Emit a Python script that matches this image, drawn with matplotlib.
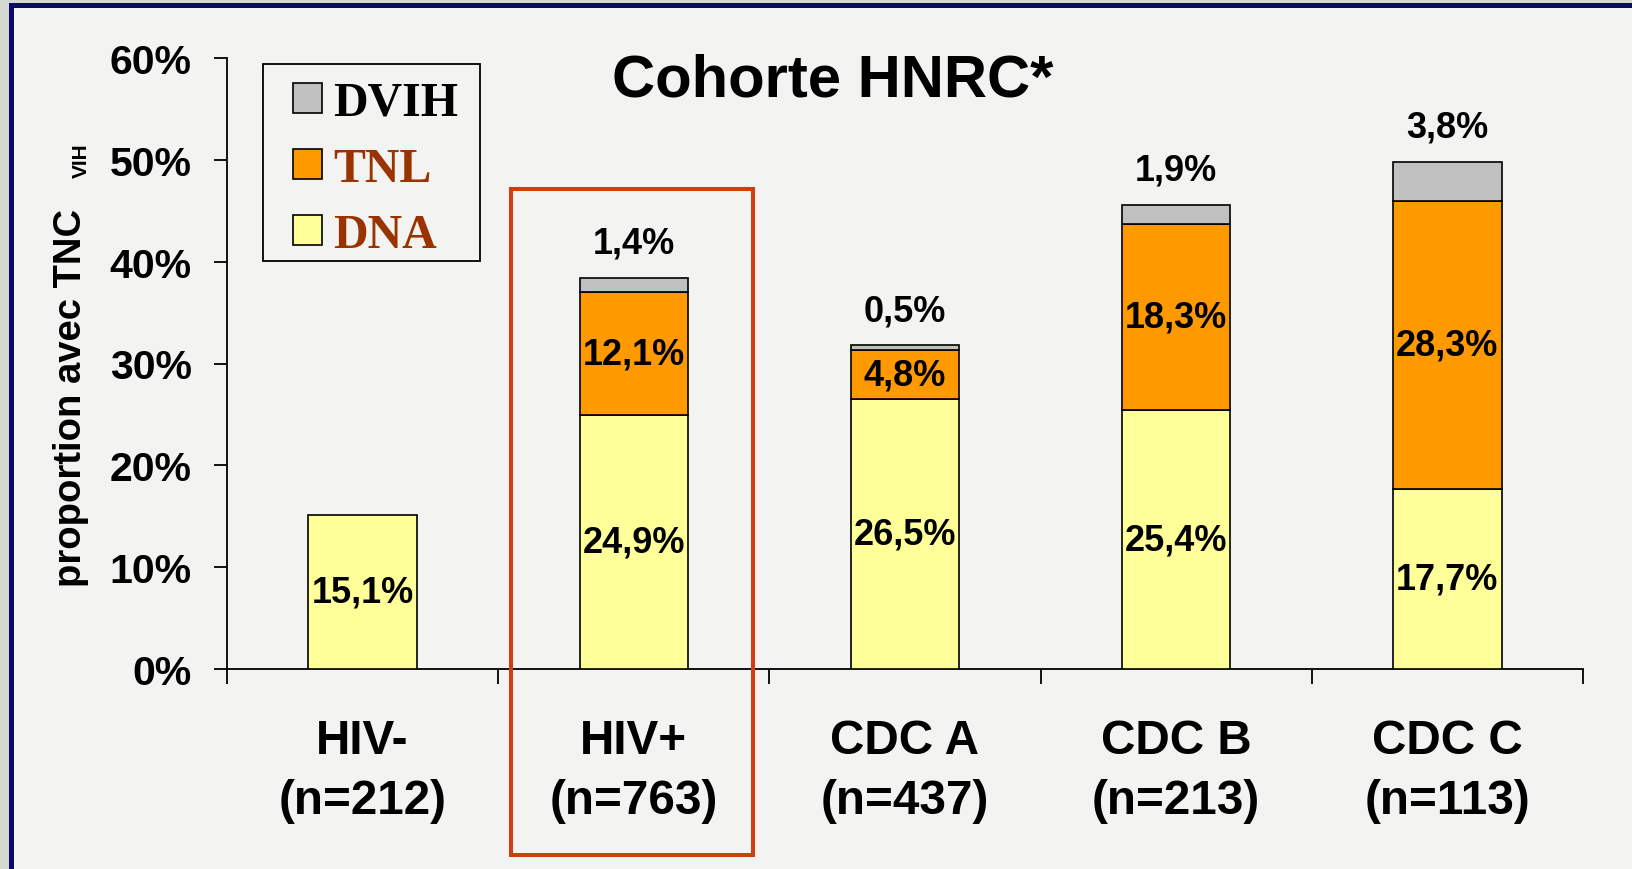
import numpy as np
import matplotlib
matplotlib.use("Agg")
import matplotlib.pyplot as plt
from matplotlib.patches import Rectangle

# ------------------------------------------------------------
# data
# ------------------------------------------------------------
categories = ["HIV-\n(n=212)", "HIV+\n(n=763)", "CDC A\n(n=437)",
              "CDC B\n(n=213)", "CDC C\n(n=113)"]
dna = [15.1, 24.9, 26.5, 25.4, 17.7]
tnl = [0.0, 12.1, 4.8, 18.3, 28.3]
dvih = [0.0, 1.4, 0.5, 1.9, 3.8]
y_ticks = [0, 10, 20, 30, 40, 50, 60]

C_DNA = "#ffff99"
C_TNL = "#ff9900"
C_DVIH = "#c0c0c0"
BROWN = "#993300"
BG = "#f3f4f1"
SANS = "Liberation Sans"
SERIF = "Liberation Serif"

W, H = 1633, 870
fig = plt.figure(figsize=(W / 100, H / 100), dpi=100, facecolor=BG)

# outer frame (grey margin + navy border)
fig.add_artist(Rectangle((0, 0), 9 / W, 1, transform=fig.transFigure,
                         facecolor="#d4dad2", edgecolor="none", zorder=0))
fig.add_artist(Rectangle((0, 1 - 4 / H), 1, 4 / H, transform=fig.transFigure,
                         facecolor="#d4dad2", edgecolor="none", zorder=0))
fig.add_artist(Rectangle((9 / W, 0), 5 / W, 1 - 4 / H, transform=fig.transFigure,
                         facecolor="#0a0a6e", edgecolor="none", zorder=1))
fig.add_artist(Rectangle((9 / W, 1 - 9 / H), 1, 5 / H, transform=fig.transFigure,
                         facecolor="#0a0a6e", edgecolor="none", zorder=1))

ax = fig.add_axes([227 / W, 1 - 670 / H, (1583 - 227) / W, (670 - 59) / H])
ax.set_facecolor("none")

x = np.arange(len(categories))
bw = 0.40
dna = np.array(dna)
tnl = np.array(tnl)
dvih = np.array(dvih)

b1 = ax.bar(x, dna, bw, color=C_DNA, edgecolor="black", linewidth=1.2,
            label="DNA", zorder=3)
mask = tnl > 0
b2 = ax.bar(x[mask], tnl[mask], bw, bottom=dna[mask], color=C_TNL,
            edgecolor="black", linewidth=1.2, label="TNL", zorder=3)
b3 = ax.bar(x[mask], dvih[mask], bw, bottom=(dna + tnl)[mask], color=C_DVIH,
            edgecolor="black", linewidth=1.2, label="DVIH", zorder=3)


def fmt(v):
    return f"{v:.1f}".replace(".", ",") + "%"


for i in range(len(x)):
    ax.text(x[i], dna[i] / 2, fmt(dna[i]), ha="center", va="center",
            fontsize=26, fontweight="bold", family=SANS, zorder=4)
    if tnl[i] > 0:
        ax.text(x[i], dna[i] + tnl[i] / 2, fmt(tnl[i]), ha="center",
                va="center", fontsize=26, fontweight="bold", family=SANS,
                zorder=4)
        top = dna[i] + tnl[i] + dvih[i]
        ax.text(x[i], top + 3.4, fmt(dvih[i]), ha="center", va="center",
                fontsize=26, fontweight="bold", family=SANS, zorder=4)

ax.set_xlim(-0.5, len(x) - 0.5)
ax.set_ylim(0, 60)
ax.set_yticks(y_ticks)
ax.set_yticklabels([f"{t}%" for t in y_ticks])

ax.set_xticks(np.arange(len(x) + 1) - 0.5)
ax.set_xticklabels([])
ax.set_xticks(x, minor=True)
ax.set_xticklabels(categories, minor=True, fontsize=34.3, fontweight="bold",
                   family=SANS, linespacing=1.45)
ax.tick_params(axis="x", which="major", direction="out", length=11, width=1.3)
ax.tick_params(axis="x", which="minor", length=0, pad=35)
ax.tick_params(axis="y", direction="out", length=9.5, width=1.3, pad=16,
               labelsize=29.5)
for lab in ax.get_yticklabels():
    lab.set_fontweight("bold")
    lab.set_family(SANS)

for s in ["top", "right"]:
    ax.spines[s].set_visible(False)
for s in ["left", "bottom"]:
    ax.spines[s].set_linewidth(1.3)

# legend: frame drawn separately (wider side padding than matplotlib gives)
ax.add_patch(Rectangle((0.0265, 0.6678), 0.1601, 0.3222,
                       transform=ax.transAxes, facecolor="none",
                       edgecolor="black", linewidth=1.3, zorder=5,
                       clip_on=False))
leg = ax.legend(handles=[b3, b2, b1], labels=["DVIH", "TNL", "DNA"],
                loc="upper left", bbox_to_anchor=(0.0487, 0.963),
                prop={"family": SERIF, "weight": "bold", "size": 34.5},
                handlelength=0.6, handleheight=0.6, handletextpad=0.23,
                labelspacing=0.46, borderpad=0, borderaxespad=0,
                frameon=False)
for t, c in zip(leg.get_texts(), ["black", BROWN, BROWN]):
    t.set_color(c)

# title
fig.text(833 / W, 1 - 81 / H, "Cohorte HNRC*", ha="center", va="center",
         fontsize=43, fontweight="bold", family=SANS)

# y label with subscript
fig.text(81 / W, 1 - 398 / H, "proportion avec TNC", rotation=90,
         rotation_mode="anchor", ha="center", va="baseline", fontsize=27.5,
         fontweight="bold", family=SANS)
fig.text(87 / W, 1 - 178 / H, "VIH", rotation=90, rotation_mode="anchor",
         ha="left", va="baseline", fontsize=15, fontweight="bold",
         family=SANS)

# highlight box around HIV+
fig.add_artist(Rectangle((511 / W, 1 - 856 / H), (753 - 511) / W,
                         (856 - 190) / H, transform=fig.transFigure,
                         facecolor="none", edgecolor="#cf3d12", linewidth=2.9,
                         zorder=5))

fig.savefig("out.png", dpi=100, facecolor=BG)
